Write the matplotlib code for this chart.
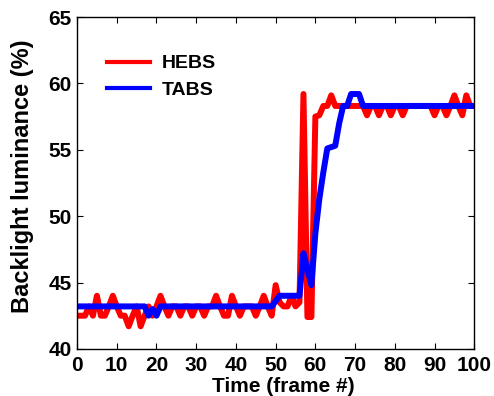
import numpy as np
import matplotlib
matplotlib.use("Agg")
import matplotlib.pyplot as plt

# frame numbers 0..100
frames = np.arange(0, 101)

# HEBS backlight luminance (%) per frame
hebs = [42.5, 42.5, 42.5, 43.2, 42.5, 44.0, 42.5, 42.5, 43.2, 44.0,
        43.2, 42.5, 42.5, 41.7, 42.5, 43.2, 41.7, 42.5, 43.2, 42.5,
        43.2, 44.0, 43.2, 42.5, 43.2, 43.2, 42.5, 43.2, 43.2, 42.5,
        43.2, 43.2, 42.5, 43.2, 43.2, 44.0, 43.2, 42.5, 42.5, 44.0,
        43.2, 42.5, 43.2, 43.2, 43.2, 42.5, 43.2, 44.0, 43.2, 42.5,
        44.8, 43.5, 43.2, 43.2, 44.0, 43.2, 43.5, 59.2, 42.4, 42.4,
        57.5, 57.6, 58.3, 58.3, 59.1, 58.3, 58.3, 58.3, 58.3, 58.3,
        58.3, 58.3, 58.3, 57.6, 58.3, 58.3, 57.6, 58.3, 58.3, 57.6,
        58.3, 58.3, 57.6, 58.3, 58.3, 58.3, 58.3, 58.3, 58.3, 58.3,
        57.6, 58.3, 58.3, 57.6, 58.3, 59.1, 58.3, 57.6, 59.1, 58.3,
        58.3]

# TABS backlight luminance (%) per frame
tabs = [43.2, 43.2, 43.2, 43.2, 43.2, 43.2, 43.2, 43.2, 43.2, 43.2,
        43.2, 43.2, 43.2, 43.2, 43.2, 43.2, 43.2, 43.2, 42.5, 43.0,
        42.5, 43.2, 43.2, 43.2, 43.2, 43.2, 43.2, 43.2, 43.2, 43.2,
        43.2, 43.2, 43.2, 43.2, 43.2, 43.2, 43.2, 43.2, 43.2, 43.2,
        43.2, 43.2, 43.2, 43.2, 43.2, 43.2, 43.2, 43.2, 43.2, 43.2,
        43.6, 44.0, 44.0, 44.0, 44.0, 44.0, 44.0, 47.2, 46.0, 44.8,
        48.7, 51.3, 53.3, 55.1, 55.2, 55.3, 57.0, 58.3, 58.3, 59.2,
        59.2, 59.2, 58.3, 58.3, 58.3, 58.3, 58.3, 58.3, 58.3, 58.3,
        58.3, 58.3, 58.3, 58.3, 58.3, 58.3, 58.3, 58.3, 58.3, 58.3,
        58.3, 58.3, 58.3, 58.3, 58.3, 58.3, 58.3, 58.3, 58.3, 58.3,
        58.3]

plt.rcParams['font.family'] = ['Liberation Sans', 'DejaVu Sans']
plt.rcParams['font.weight'] = 'bold'

fig = plt.figure(figsize=(4.94, 3.96), dpi=100)
ax = fig.add_axes([0.156, 0.119, 0.804, 0.838])

ax.plot(frames, hebs, color='#ff0000', linewidth=4.3, label='HEBS', solid_joinstyle='round')
ax.plot(frames, tabs, color='#0000ff', linewidth=4.3, label='TABS', solid_joinstyle='round')

ax.set_xlim(0, 100)
ax.set_ylim(40, 65)
ax.set_xticks(range(0, 101, 10))
ax.set_yticks(range(40, 66, 5))
ax.tick_params(direction='in', top=True, right=True, length=4, labelsize=15)
ax.tick_params(axis='x', pad=5)
ax.tick_params(axis='y', pad=4)
for lab in ax.get_xticklabels() + ax.get_yticklabels():
    lab.set_fontweight('bold')
for s in ax.spines.values():
    s.set_linewidth(1.0)

ax.set_xlabel('Time (frame #)', fontsize=15, fontweight='bold', labelpad=0)
ax.xaxis.set_label_coords(0.52, -0.085)
ax.xaxis.label.set_va('top')
ax.set_ylabel('Backlight luminance (%)', fontsize=17, fontweight='bold')
ax.yaxis.set_label_coords(-0.138, 0.52)
ax.yaxis.label.set_va('center')

leg = ax.legend(loc='upper left', bbox_to_anchor=(0.0756, 0.886), frameon=False,
                fontsize=14, handlelength=2.2, handletextpad=0.6, labelspacing=0.45,
                borderpad=0, borderaxespad=0)
for line in leg.get_lines():
    line.set_linewidth(3)

fig.savefig('out.png', dpi=100)
